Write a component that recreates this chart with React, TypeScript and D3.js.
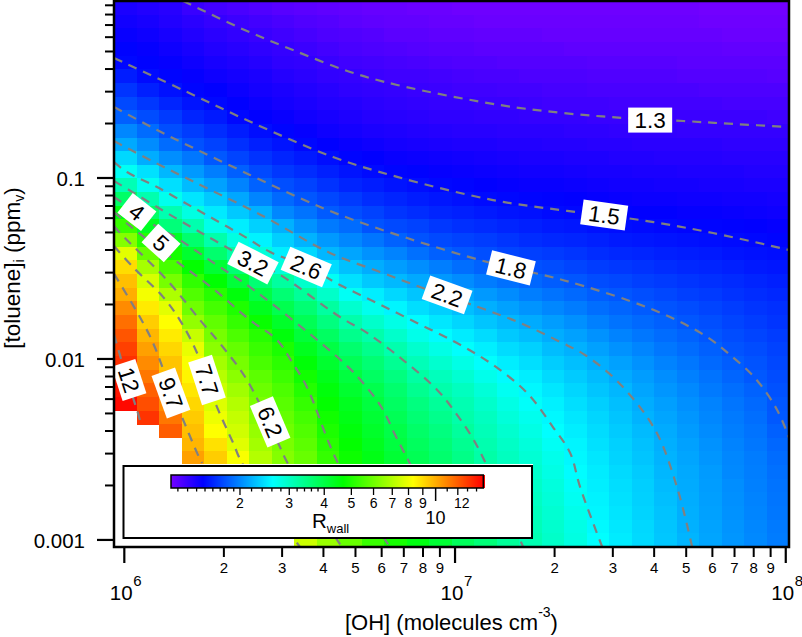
import React from "react";
import * as d3 from "d3";

const N = NaN;
// Rwall per column (low to high OH), each listed from the top row (high toluene) to the bottom row
const rwallByColumn: number[][] = [
[1.39,1.42,1.45,1.48,1.5,1.57,1.66,1.74,1.83,2.0,2.16,2.4,2.68,3.1,3.7,4.5,5.3,6.3,7.8,9.0,9.6,10,10.8,11.5,12.2,12.8,13.3,13.7,14.1,14.5,N,N,N,N,N,N,N,N,N,N],
[1.37,1.4,1.43,1.46,1.48,1.51,1.58,1.67,1.75,1.88,2.02,2.18,2.45,2.7,3.15,3.7,4.3,5.1,5.9,6.8,7.6,8.1,8.7,9.3,9.8,10.3,10.8,11.3,11.9,12.4,13.2,N,N,N,N,N,N,N,N,N],
[1.35,1.37,1.4,1.43,1.46,1.49,1.53,1.6,1.68,1.76,1.88,2.03,2.23,2.44,2.72,3.13,3.55,4.3,4.9,5.5,6.1,6.9,7.8,8.3,8.7,9.1,9.5,9.7,10.2,10.8,11.3,12,N,N,N,N,N,N,N,N],
[1.3,1.34,1.37,1.4,1.43,1.46,1.49,1.54,1.6,1.69,1.77,1.93,2.08,2.25,2.47,2.8,3.15,3.65,4.2,4.7,5.2,5.6,6.0,6.5,7.3,7.9,8.2,8.5,8.8,9.1,9.35,9.6,9.8,10.3,N,N,N,N,N,N],
[1.27,1.31,1.34,1.37,1.4,1.43,1.47,1.5,1.56,1.63,1.71,1.8,1.96,2.12,2.32,2.5,2.75,3.17,3.65,4.15,4.65,5.1,5.45,5.8,6.1,6.4,6.75,7.05,7.35,7.7,8.0,8.3,8.9,9.3,N,N,N,N,N,N],
[1.25,1.29,1.32,1.35,1.38,1.41,1.44,1.47,1.5,1.57,1.64,1.72,1.83,1.98,2.15,2.32,2.52,2.8,3.2,3.6,4.1,4.55,5.0,5.25,5.55,5.85,6.1,6.4,6.7,7.0,7.25,7.45,7.75,8.2,N,N,N,N,N,N],
[1.23,1.27,1.3,1.33,1.36,1.39,1.41,1.44,1.47,1.52,1.58,1.65,1.74,1.84,1.99,2.2,2.36,2.55,2.85,3.25,3.6,4.0,4.35,4.75,5.1,5.3,5.5,5.75,5.95,6.15,6.35,6.55,6.75,7.0,N,N,N,N,N,N],
[1.21,1.25,1.28,1.31,1.33,1.36,1.39,1.41,1.45,1.49,1.54,1.6,1.67,1.76,1.87,2.0,2.2,2.35,2.53,2.85,3.25,3.6,3.9,4.25,4.55,4.95,5.15,5.35,5.55,5.7,5.85,6.0,6.15,6.3,N,N,N,N,N,N],
[1.2,1.23,1.26,1.29,1.32,1.34,1.37,1.39,1.42,1.46,1.5,1.56,1.63,1.71,1.79,1.91,2.05,2.21,2.4,2.62,2.95,3.3,3.6,3.85,4.1,4.35,4.6,4.85,5.05,5.25,5.45,5.6,5.75,5.9,6.05,6.2,6.4,6.7,7,7.4],
[1.19,1.22,1.24,1.27,1.3,1.32,1.35,1.37,1.4,1.43,1.47,1.52,1.58,1.65,1.73,1.81,1.94,2.08,2.23,2.42,2.68,2.96,3.25,3.5,3.75,4,4.2,4.4,4.55,4.7,4.85,4.97,5.1,5.25,5.4,5.55,5.75,6.0,6.3,6.6],
[1.18,1.2,1.23,1.25,1.28,1.31,1.33,1.36,1.38,1.41,1.45,1.49,1.54,1.6,1.68,1.76,1.88,2.0,2.14,2.28,2.45,2.68,2.92,3.17,3.4,3.65,3.85,4.05,4.2,4.35,4.45,4.55,4.7,4.8,4.92,5.05,5.2,5.4,5.65,5.9],
[1.17,1.19,1.22,1.24,1.27,1.29,1.32,1.34,1.36,1.39,1.43,1.47,1.51,1.57,1.63,1.71,1.78,1.92,2.05,2.18,2.32,2.52,2.72,2.95,3.17,3.4,3.6,3.75,3.92,4.05,4.15,4.25,4.35,4.45,4.55,4.7,4.85,4.95,5.15,5.3],
[1.17,1.18,1.2,1.23,1.26,1.28,1.31,1.33,1.35,1.38,1.41,1.45,1.49,1.54,1.6,1.66,1.74,1.84,1.98,2.1,2.24,2.4,2.56,2.77,2.95,3.15,3.35,3.5,3.65,3.75,3.85,3.97,4.05,4.15,4.25,4.35,4.45,4.6,4.75,4.9],
[1.16,1.18,1.2,1.22,1.25,1.28,1.3,1.32,1.34,1.37,1.4,1.44,1.48,1.52,1.57,1.63,1.71,1.78,1.9,2.03,2.16,2.3,2.43,2.6,2.75,2.93,3.08,3.23,3.37,3.5,3.6,3.7,3.78,3.86,3.95,4.05,4.15,4.25,4.4,4.5],
[1.16,1.17,1.19,1.21,1.24,1.27,1.29,1.31,1.33,1.36,1.39,1.43,1.46,1.5,1.55,1.6,1.67,1.74,1.83,1.96,2.08,2.22,2.35,2.48,2.6,2.77,2.92,3.05,3.17,3.3,3.4,3.5,3.58,3.65,3.72,3.8,3.88,3.96,4.05,4.15],
[1.15,1.17,1.19,1.21,1.23,1.26,1.28,1.31,1.33,1.35,1.38,1.42,1.45,1.49,1.53,1.58,1.64,1.71,1.79,1.89,2.02,2.16,2.27,2.39,2.51,2.63,2.77,2.9,3.03,3.12,3.18,3.27,3.36,3.44,3.5,3.55,3.6,3.66,3.72,3.8],
[1.15,1.16,1.18,1.2,1.23,1.25,1.28,1.3,1.32,1.35,1.38,1.41,1.44,1.47,1.51,1.56,1.62,1.69,1.76,1.84,1.95,2.08,2.19,2.3,2.42,2.53,2.63,2.74,2.86,2.95,3.02,3.08,3.14,3.2,3.26,3.32,3.38,3.44,3.5,3.56],
[1.15,1.16,1.18,1.2,1.22,1.25,1.27,1.3,1.32,1.34,1.37,1.4,1.43,1.46,1.5,1.54,1.6,1.66,1.72,1.8,1.9,2.02,2.12,2.23,2.32,2.42,2.52,2.6,2.7,2.78,2.85,2.92,2.98,3.03,3.08,3.12,3.16,3.2,3.25,3.3],
[1.15,1.16,1.18,1.2,1.22,1.24,1.27,1.29,1.31,1.34,1.37,1.39,1.42,1.45,1.49,1.53,1.58,1.63,1.7,1.77,1.86,1.96,2.06,2.17,2.26,2.36,2.44,2.52,2.58,2.65,2.72,2.78,2.84,2.89,2.93,2.97,3.0,3.04,3.08,3.12],
[1.15,1.16,1.17,1.2,1.22,1.24,1.26,1.28,1.31,1.34,1.36,1.39,1.42,1.45,1.48,1.51,1.56,1.61,1.68,1.75,1.82,1.91,2.0,2.1,2.18,2.26,2.34,2.41,2.48,2.54,2.58,2.62,2.68,2.74,2.78,2.83,2.86,2.9,2.93,2.96],
[1.15,1.16,1.17,1.19,1.22,1.24,1.26,1.28,1.31,1.33,1.36,1.38,1.41,1.44,1.47,1.5,1.55,1.6,1.66,1.72,1.79,1.87,1.95,2.04,2.12,2.2,2.27,2.33,2.39,2.44,2.48,2.52,2.56,2.58,2.61,2.66,2.7,2.74,2.77,2.8],
[1.15,1.16,1.17,1.19,1.21,1.23,1.25,1.28,1.3,1.33,1.35,1.38,1.4,1.43,1.46,1.49,1.53,1.58,1.63,1.69,1.75,1.82,1.89,1.97,2.05,2.12,2.19,2.25,2.3,2.35,2.39,2.42,2.45,2.48,2.51,2.53,2.55,2.57,2.59,2.62],
[1.15,1.16,1.17,1.19,1.21,1.23,1.25,1.27,1.3,1.32,1.35,1.37,1.4,1.42,1.45,1.48,1.52,1.56,1.61,1.67,1.73,1.79,1.85,1.91,1.98,2.05,2.12,2.17,2.23,2.27,2.3,2.33,2.36,2.38,2.41,2.43,2.45,2.47,2.49,2.51],
[1.15,1.16,1.17,1.19,1.21,1.23,1.25,1.27,1.3,1.32,1.34,1.37,1.39,1.42,1.44,1.47,1.51,1.55,1.6,1.65,1.7,1.76,1.81,1.87,1.93,1.99,2.05,2.1,2.14,2.18,2.21,2.25,2.28,2.3,2.33,2.35,2.36,2.38,2.4,2.41],
[1.15,1.16,1.17,1.19,1.21,1.23,1.25,1.27,1.3,1.32,1.34,1.36,1.39,1.41,1.44,1.47,1.5,1.54,1.58,1.63,1.68,1.73,1.78,1.83,1.88,1.93,1.98,2.03,2.07,2.11,2.14,2.17,2.19,2.21,2.23,2.25,2.27,2.29,2.3,2.31],
[1.15,1.16,1.17,1.19,1.2,1.22,1.25,1.27,1.29,1.31,1.34,1.36,1.38,1.41,1.43,1.46,1.49,1.53,1.57,1.61,1.66,1.7,1.75,1.79,1.84,1.88,1.93,1.97,2.01,2.04,2.07,2.09,2.12,2.14,2.16,2.17,2.18,2.19,2.2,2.22],
[1.14,1.15,1.17,1.19,1.2,1.22,1.24,1.27,1.29,1.31,1.34,1.36,1.38,1.4,1.43,1.46,1.49,1.52,1.56,1.6,1.64,1.68,1.72,1.76,1.79,1.83,1.87,1.91,1.94,1.98,2.0,2.02,2.05,2.07,2.09,2.1,2.11,2.12,2.13,2.14],
[1.14,1.15,1.16,1.18,1.2,1.22,1.24,1.26,1.29,1.31,1.33,1.35,1.38,1.4,1.42,1.45,1.48,1.51,1.54,1.58,1.62,1.65,1.69,1.72,1.75,1.78,1.82,1.85,1.89,1.92,1.94,1.96,1.98,2.0,2.01,2.03,2.04,2.05,2.06,2.07],
[1.14,1.15,1.16,1.18,1.2,1.22,1.24,1.26,1.29,1.31,1.33,1.35,1.37,1.39,1.42,1.44,1.47,1.5,1.53,1.56,1.6,1.63,1.66,1.69,1.72,1.75,1.78,1.8,1.84,1.87,1.89,1.91,1.93,1.95,1.96,1.97,1.98,1.99,2,2.01],
[1.14,1.15,1.16,1.18,1.2,1.21,1.24,1.26,1.28,1.31,1.33,1.35,1.37,1.39,1.41,1.43,1.46,1.49,1.52,1.55,1.58,1.61,1.64,1.66,1.69,1.71,1.73,1.75,1.77,1.79,1.8,1.83,1.86,1.88,1.9,1.91,1.92,1.93,1.94,1.95],
];

// contour lines: [log10 OH, log10 toluene]
const contour13 = [[6.178,-0.022],[6.35,-0.171],[6.51,-0.293],[6.683,-0.414],[6.825,-0.486],[7.136,-0.597],[7.327,-0.641],[7.508,-0.668],[7.69,-0.685],[7.847,-0.702],[8.01,-0.718]];
const contour15 = [[5.969,-0.337],[6.19,-0.525],[6.389,-0.696],[6.631,-0.884],[6.825,-0.994],[7.115,-1.122],[7.339,-1.182],[7.559,-1.232],[7.78,-1.304],[8.01,-1.398]];
const contour18 = [[5.969,-0.608],[6.099,-0.735],[6.178,-0.807],[6.38,-0.983],[6.531,-1.111],[6.652,-1.204],[6.855,-1.332],[7.097,-1.464],[7.266,-1.536],[7.348,-1.575],[7.52,-1.674],[7.65,-1.768],[7.762,-1.878],[7.832,-1.978],[7.907,-2.105],[7.974,-2.282],[8.01,-2.437]];
const contour22 = [[5.969,-0.796],[6.09,-0.912],[6.211,-1.022],[6.413,-1.204],[6.622,-1.414],[6.773,-1.519],[6.894,-1.602],[7.07,-1.713],[7.197,-1.801],[7.318,-1.906],[7.393,-1.978],[7.493,-2.127],[7.605,-2.392],[7.671,-2.707],[7.717,-3.039]];
const contour26 = [[5.969,-0.912],[6.008,-0.967],[6.099,-1.05],[6.211,-1.166],[6.292,-1.249],[6.371,-1.332],[6.441,-1.409],[6.555,-1.492],[6.652,-1.591],[6.764,-1.691],[6.885,-1.801],[7.006,-1.912],[7.115,-2.033],[7.218,-2.188],[7.296,-2.376],[7.348,-2.519],[7.378,-2.707],[7.445,-3.039]];
const contour32 = [[5.969,-1.017],[6.014,-1.066],[6.114,-1.177],[6.202,-1.271],[6.271,-1.343],[6.389,-1.464],[6.462,-1.525],[6.652,-1.768],[6.734,-1.856],[6.843,-2.006],[6.946,-2.171],[7.0,-2.293],[7.051,-2.431],[7.091,-2.569],[7.206,-3.039]];
const contour40 = [[5.969,-1.105],[6.035,-1.188],[6.09,-1.26],[6.159,-1.332],[6.271,-1.47],[6.392,-1.619],[6.661,-2.017],[6.722,-2.133],[6.779,-2.271],[6.819,-2.42],[6.858,-2.558],[6.985,-3.039]];
const contour50 = [[5.969,-1.188],[6.017,-1.265],[6.111,-1.398],[6.262,-1.602],[6.38,-1.785],[6.462,-1.895],[6.507,-2.017],[6.552,-2.155],[6.646,-2.575],[6.803,-3.039]];
const contour62 = [[5.969,-1.265],[5.987,-1.304],[6.129,-1.564],[6.229,-1.785],[6.298,-1.934],[6.371,-2.116],[6.465,-2.464],[6.492,-2.569],[6.658,-3.039]];
const contour77 = [[5.969,-1.376],[6.026,-1.492],[6.117,-1.657],[6.168,-1.785],[6.22,-1.967],[6.25,-2.122],[6.28,-2.265],[6.329,-2.464],[6.356,-2.575],[6.531,-3.039]];
const contour97 = [[5.969,-1.53],[6.047,-1.768],[6.087,-1.912],[6.144,-2.188],[6.178,-2.337],[6.22,-2.519],[6.235,-2.575]];
const contour120 = [[5.969,-1.867],[6.011,-2.127],[6.041,-2.298],[6.05,-2.359]];
const contours = [contour13, contour15, contour18, contour22, contour26, contour32, contour40, contour50, contour62, contour77, contour97, contour120];

const labelText = ["1.3","1.5","1.8","2.2","2.6","3.2","4","5","6.2","7.7","9.7","12"];
const labelLogOH = [7.59,7.451,7.169,6.976,6.55,6.389,6.038,6.111,6.441,6.25,6.141,6.014];
const labelLogTol = [-0.68,-1.204,-1.497,-1.646,-1.492,-1.47,-1.188,-1.359,-2.348,-2.116,-2.188,-2.116];
const labelAngle = [0,8,14,20,23,27,38,42,67,72,70,72];
const labelWidth = [44,45,45,45,45,45,30,30,45,45,45,36];

const yMajor = [0.1, 0.01, 0.001];
const yMajorLabels = ["0.1", "0.01", "0.001"];
const xMajor = [1e6, 1e7, 1e8];
const xMajorExp = ["6", "7", "8"];
const minorDigits = [2, 3, 4, 5, 6, 7, 8, 9];
const barLabelled = [2, 3, 4, 5, 6, 7, 8, 9, 12];
const barMinor = [1.2,1.3,1.4,1.5,1.6,1.7,1.8,1.9,2.2,2.4,2.6,2.8,3.2,3.4,3.6,3.8,11,13,14];
const colorStops = [1.134, 1.475, 2.62, 4.67, 8.31, 14.8];
const colorValues = ["#7400ff", "#0000ff", "#00ffff", "#00ff00", "#ffff00", "#ff0000"];

const FONT = "'Liberation Sans', Arial, sans-serif";
const L = 114, R = 789, T = 1, B = 547;

const x = d3.scaleLog().domain([10 ** 5.9688, 10 ** 8.0098]).range([L, R]);
const y = d3.scaleLog().domain([10 ** -3.039, 10 ** -0.022]).range([B, T]);
const color = d3.scaleLog<string>().domain(colorStops).range(colorValues).interpolate(d3.interpolateRgb).clamp(true);
const bandX = d3.scaleBand<number>().domain(d3.range(rwallByColumn.length)).range([L, R]);
const bandY = d3.scaleBand<number>().domain(d3.range(rwallByColumn[0].length)).range([T, B]);
const bar = d3.scaleLog().domain([1.134, 14.8]).range([171, 483.3]);
const line = d3.line<number[]>().x(d => x(10 ** d[0])).y(d => y(10 ** d[1])).curve(d3.curveCatmullRom.alpha(0.5));

export default function App() {
  const yMinor = yMajor.flatMap(m => minorDigits.map(d => d * m)).filter(v => y(v) > T && y(v) < B);
  const xMinor = [1e6, 1e7].flatMap(m => minorDigits.map(d => d * m));
  const barCells = d3.range(171, 483.3, 1);
  return (
    <svg width={802} height={637} style={{ position: "absolute", left: 0, top: 0, display: "block", background: "#fff" }} fontFamily={FONT}>
      <defs>
        <clipPath id="plot"><rect x={L} y={T} width={R - L} height={B - T} /></clipPath>
      </defs>
      <g shapeRendering="crispEdges">
        {rwallByColumn.map((col, i) => col.map((v, j) => Number.isNaN(v) ? null : (
          <rect key={i + "-" + j} x={bandX(i)} y={bandY(j)} width={bandX.bandwidth() + 0.6} height={bandY.bandwidth() + 0.6} fill={color(v)} />
        )))}
      </g>
      <g clipPath="url(#plot)" fill="none" stroke="#808080" strokeWidth={2.2} strokeDasharray="9 7">
        {contours.map((c, i) => <path key={i} d={line(c) ?? ""} />)}
      </g>
      {labelText.map((t, i) => (
        <g key={t} transform={`translate(${x(10 ** labelLogOH[i])},${y(10 ** labelLogTol[i])}) rotate(${labelAngle[i]})`}>
          <rect x={-labelWidth[i] / 2} y={-12.5} width={labelWidth[i]} height={25} fill="#fff" />
          <text textAnchor="middle" y={8} fontSize={22.5} fill="#000">{t}</text>
        </g>
      ))}
      {/* legend */}
      <rect x={122} y={464} width={411} height={75} fill="#fff" />
      <rect x={123.5} y={466} width={408.5} height={72} fill="#fff" stroke="#000" strokeWidth={2} />
      <g shapeRendering="crispEdges">
        {barCells.map(px => <rect key={px} x={px} y={475} width={1.5} height={13} fill={color(bar.invert(px + 0.5))} />)}
      </g>
      <rect x={171} y={475} width={312.3} height={13} fill="none" stroke="#000" strokeWidth={1.5} />
      {barMinor.map(v => <line key={v} x1={bar(v)} x2={bar(v)} y1={488} y2={491.5} stroke="#000" strokeWidth={1.3} />)}
      {barLabelled.map(v => (
        <g key={v}>
          <line x1={bar(v)} x2={bar(v)} y1={488} y2={495} stroke="#000" strokeWidth={1.3} />
          <text x={bar(v) + (v === 12 ? 4 : 0)} y={508} textAnchor="middle" fontSize={14}>{v}</text>
        </g>
      ))}
      <line x1={bar(10)} x2={bar(10)} y1={488} y2={501} stroke="#000" strokeWidth={1.5} />
      <text x={bar(10)} y={524} textAnchor="middle" fontSize={18}>10</text>
      <text x={312} y={528} fontSize={20.5}>R<tspan fontSize={13} dy={5}>wall</tspan></text>
      {/* frame */}
      <rect x={L} y={T} width={R - L} height={B - T} fill="none" stroke="#000" strokeWidth={2.5} />
      {/* y axis */}
      {yMinor.map(v => <line key={v} x1={105} x2={L} y1={y(v)} y2={y(v)} stroke="#000" strokeWidth={2} />)}
      {yMajor.map((v, i) => (
        <g key={v}>
          <line x1={97} x2={L} y1={y(v)} y2={y(v)} stroke="#000" strokeWidth={2.2} />
          <text x={85} y={y(v) + 8.5} textAnchor="end" fontSize={20.5}>{yMajorLabels[i]}</text>
        </g>
      ))}
      <text transform="translate(20,268) rotate(-90)" textAnchor="middle" fontSize={22.5}>
        [toluene]<tspan fontSize={14} dy={4}>i</tspan><tspan dy={-4}> (ppm</tspan><tspan fontSize={14} dy={4}>v</tspan><tspan dy={-4}>)</tspan>
      </text>
      {/* x axis */}
      {xMinor.map(v => (
        <g key={v}>
          <line x1={x(v)} x2={x(v)} y1={B} y2={557} stroke="#000" strokeWidth={2} />
          <text x={x(v)} y={572.5} textAnchor="middle" fontSize={15}>{Math.round(v / 10 ** Math.floor(Math.log10(v) + 1e-9))}</text>
        </g>
      ))}
      {xMajor.map((v, i) => (
        <g key={v}>
          <line x1={x(v)} x2={x(v)} y1={B} y2={563} stroke="#000" strokeWidth={2.2} />
          <text x={x(v) - 14.5} y={600} fontSize={20.5}>10</text>
          <text x={x(v) + 9} y={586} fontSize={15}>{xMajorExp[i]}</text>
        </g>
      ))}
      <text x={345} y={630} fontSize={22}>[OH] (molecules cm<tspan fontSize={14} dy={-13}>-3</tspan><tspan dy={13}>)</tspan></text>
    </svg>
  );
}
